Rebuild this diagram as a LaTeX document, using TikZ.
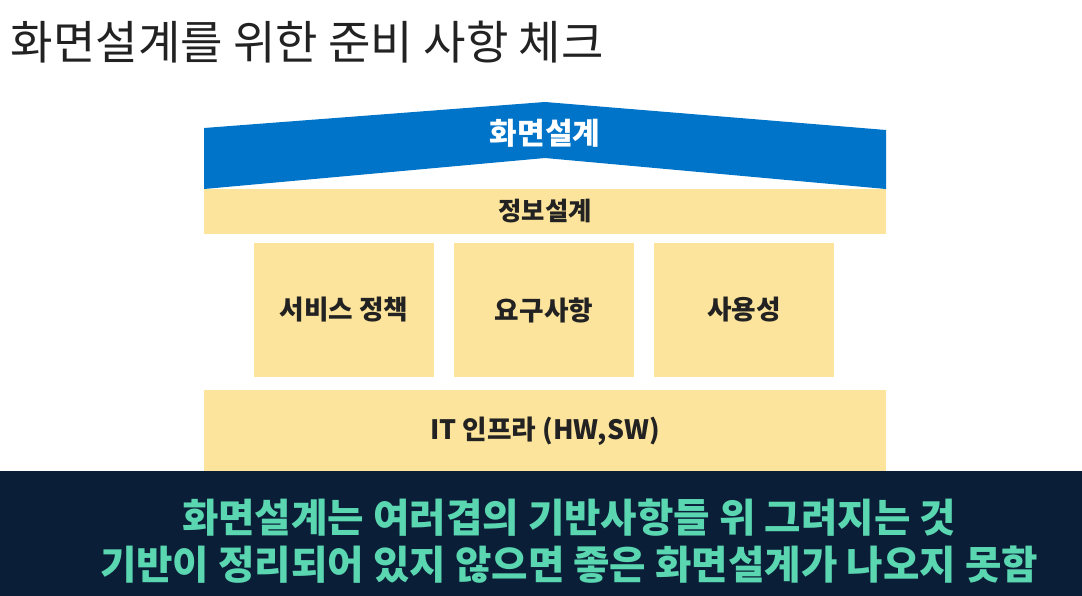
\documentclass[tikz,border=0pt]{standalone}
\usepackage{fontspec}
\setmainfont{Noto Sans CJK KR}
\definecolor{roofblue}{RGB}{0, 116, 200}
\definecolor{layeryellow}{RGB}{253, 228, 156}
\definecolor{bannernavy}{RGB}{10, 30, 56}
\definecolor{bannerteal}{RGB}{90, 214, 176}
\definecolor{titlegray}{RGB}{34, 34, 34}

\begin{document}
\begin{tikzpicture}[x=0.75pt, y=-0.75pt,
    layer/.style={fill=layeryellow, inner sep=0pt, text=titlegray, font=\fontsize{20}{24}\selectfont\bfseries},
    wide/.style={layer, minimum width=511.5pt},
    pillar/.style={layer, minimum width=135pt, minimum height=100.5pt},
    msg/.style={text=bannerteal, font=\fontsize{29.7}{34}\selectfont\bfseries}]
\useasboundingbox (0,0) rectangle (1082,596);

\node[anchor=west, text=titlegray, font=\fontsize{34.6}{40}\selectfont] (title) at (6,42) {화면설계를 위한 준비 사항 체크};

% layers, bottom up
\node[wide, minimum height=61.5pt] (infra) at (545,431) {IT 인프라 (HW,SW)};
\node[pillar] (policy) at (344,310) {서비스 정책};
\node[pillar] (require) at (544,310) {요구사항};
\node[pillar] (usable) at (744,310) {사용성};
\node[wide, minimum height=33.75pt, font=\fontsize{19}{23}\selectfont\bfseries] (info) at (545,211) {정보설계};

% roof
\fill[roofblue] (204,128) -- (545,102) -- (886,130) -- (886,189) -- (545,158) -- (204,189) -- cycle;
\node[text=white, font=\fontsize{22.5}{26}\selectfont\bfseries] (screen) at (545,133) {화면설계};

% banner
\fill[bannernavy] (0,471) rectangle (1082,596);
\node[msg] (line1) at (569,518) {화면설계는 여러겹의 기반사항들 위 그려지는 것};
\node[msg] (line2) at (569,565) {기반이 정리되어 있지 않으면 좋은 화면설계가 나오지 못함};
\end{tikzpicture}
\end{document}
